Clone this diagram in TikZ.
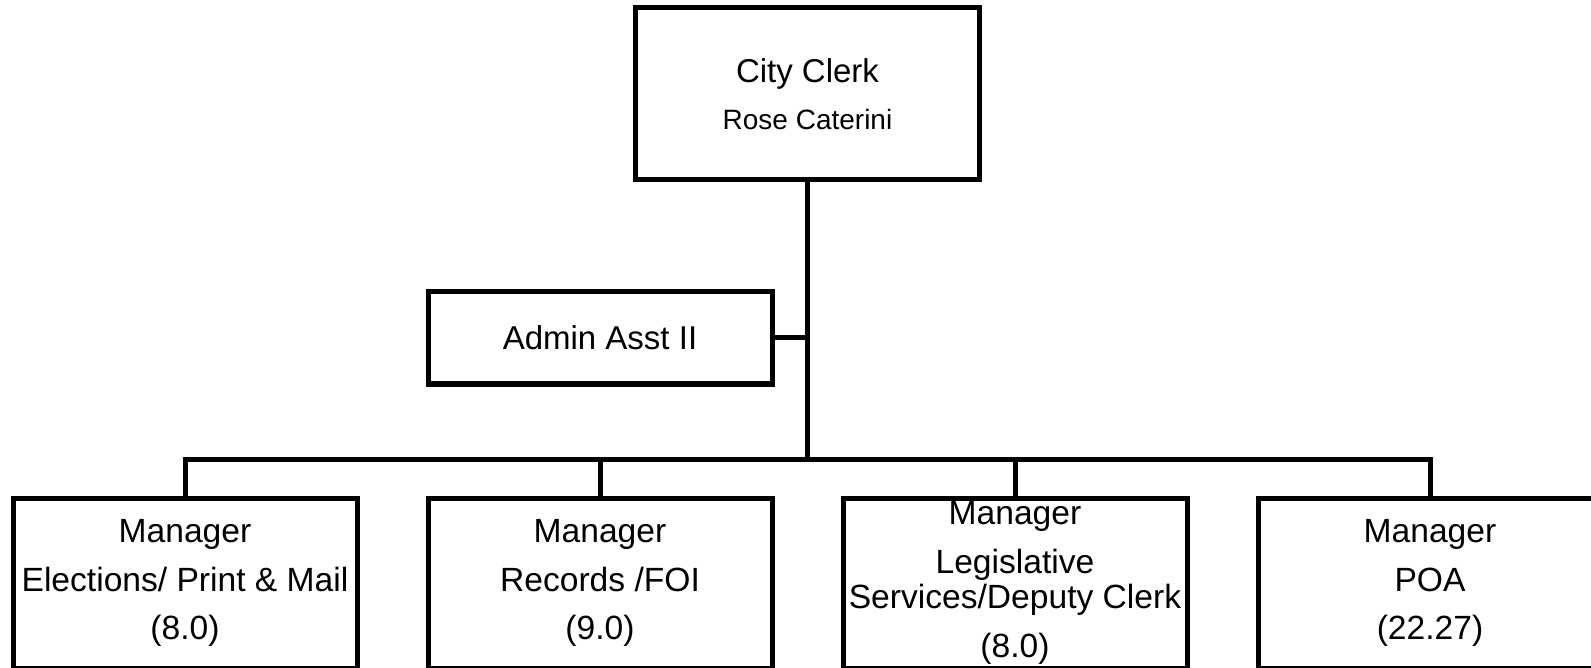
\documentclass[tikz,border=0pt]{standalone}
\usepackage{fontspec}
\setmainfont{Liberation Sans}
\usetikzlibrary{positioning}

\begin{document}
\begin{tikzpicture}[x=0.5pt,y=-0.5pt,line width=2.5pt,
  box/.style={draw,rectangle,align=center,inner sep=1pt,minimum width=172pt,font=\fontsize{16.5}{17.8}\selectfont},
  mgr/.style={box,minimum height=85pt,font=\fontsize{16.8}{17.8}\selectfont}]
\useasboundingbox (0,0) rectangle (1591,668);
\node [box,minimum height=86pt,at={(807.5,94)}] (clerk) {City Clerk\\[5.7pt]{\fontsize{14}{17}\selectfont Rose Caterini}};
\node [box,minimum height=46pt,at={(600,338)}] (admin) {Admin Asst II};
\coordinate (bus) at (807.5,459);

\node [mgr,at={(185,583)}] (elect) {Manager\\[6.6pt]Elections/ Print \& Mail\\[6.6pt](8.0)};
\node [mgr,right=33pt of elect] (records) {Manager\\[6.6pt]Records /FOI\\[6.6pt](9.0)};
\node [mgr,right=33pt of records] (legis) {Manager\\[6.6pt]Legislative\\Services/Deputy Clerk\\[6.6pt](8.0)};
\node [mgr,right=33pt of legis] (poa) {Manager\\[6.6pt]POA\\[6.6pt](22.27)};

\draw (clerk.south) -- (clerk.south |- bus);
\draw (admin.east) -- (admin.east -| clerk.south);
\draw (elect.north) |- (bus) -| (poa.north);
\foreach \n in {records,legis}
  \draw (\n.north) -- (\n.north |- bus);
\end{tikzpicture}
\end{document}
